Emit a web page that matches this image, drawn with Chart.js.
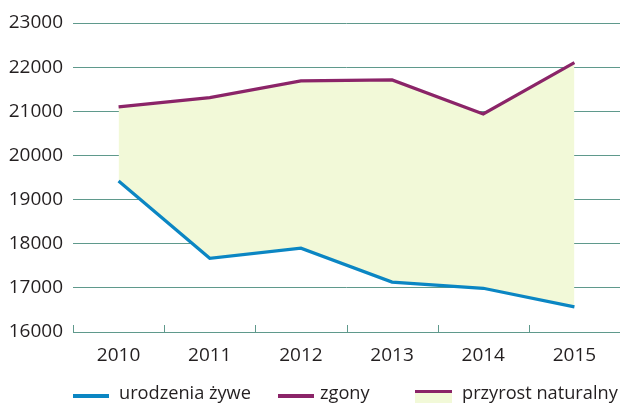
<!DOCTYPE html>
<html><head><meta charset="utf-8">
<script src="https://cdn.jsdelivr.net/npm/chart.js@4/dist/chart.umd.min.js"></script>
<style>
html,body{margin:0;padding:0;background:#fff;}
#wrap{position:relative;width:620px;height:403px;overflow:hidden;}
#legend{position:absolute;left:0;top:382px;width:620px;height:21px;font-family:"Open Sans",sans-serif;font-size:18.2px;color:#231f20;}
.li{position:absolute;top:0;height:21px;line-height:21px;white-space:nowrap;}
.sw{position:absolute;}
</style></head>
<body><div id="wrap"><canvas id="c" width="620" height="403"></canvas>
<div id="legend">
 <div class="sw" style="left:73px;top:12px;width:36px;height:4px;background:#0b86c3"></div>
 <div class="li" style="left:119px">urodzenia żywe</div>
 <div class="sw" style="left:278px;top:12px;width:36px;height:4px;background:#8b2468"></div>
 <div class="li" style="left:320px">zgony</div>
 <div class="sw" style="left:415px;top:8px;width:37px;height:14px;background:#f2f9d8;border-top:3px solid #8b2468"></div>
 <div class="li" style="left:462px">przyrost naturalny</div>
</div></div>
<script>
const years = ["2010","2011","2012","2013","2014","2015"];
const urodzenia = [19420, 17670, 17900, 17130, 16990, 16570];
const zgony = [21100, 21310, 21690, 21710, 20940, 22100];
const yTicks = [16000,17000,18000,19000,20000,21000,22000,23000];

const gridColor = "#5f998c";
const upTicks = {
  id:'upTicks',
  afterDatasetsDraw(chart){
    const x = chart.scales.x, ctx = chart.ctx, b = chart.chartArea.bottom;
    const n = x.ticks.length;
    ctx.save(); ctx.strokeStyle = gridColor; ctx.lineWidth = 1;
    for (let i=0;i<=n;i++){
      const px = Math.round((i<n ? x.getPixelForValue(i) : x.getPixelForValue(n-1)) + (i<n?-1:1)*(x.width/n)/2) + 0.5;
      ctx.beginPath(); ctx.moveTo(px,b); ctx.lineTo(px,b-7); ctx.stroke();
    }
    ctx.restore();
  }
};

new Chart(document.getElementById('c'), {
  type:'line',
  data:{labels:years, datasets:[
    {label:'urodzenia żywe', data:urodzenia, borderColor:'#0b86c3', borderWidth:3.2, pointRadius:0, tension:0, fill:false},
    {label:'zgony', data:zgony, borderColor:'#8b2468', borderWidth:3.2, pointRadius:0, tension:0, fill:'-1', backgroundColor:'#f2f9d8'}
  ]},
  options:{
    responsive:false, animation:false,
    layout:{padding:{top:23,right:0,bottom:0,left:0}},
    plugins:{legend:{display:false}, tooltip:{enabled:false}},
    scales:{
      x:{offset:true,
        grid:{display:false, drawTicks:false},
        border:{display:true,color:gridColor,width:1},
        ticks:{padding:12,color:'#231f20',font:{family:'"Open Sans"',size:19}},
        afterFit(s){s.height=71;}
      },
      y:{min:16000,max:23000,
        afterBuildTicks(s){s.ticks = yTicks.map(v=>({value:v}));},
        grid:{color:gridColor,lineWidth:1,drawTicks:false},
        border:{display:false},
        ticks:{padding:10,color:'#231f20',font:{family:'"Open Sans"',size:19},callback:v=>String(v)},
        afterFit(s){s.width=73;}
      }
    }
  },
  plugins:[upTicks]
});
</script></body></html>
